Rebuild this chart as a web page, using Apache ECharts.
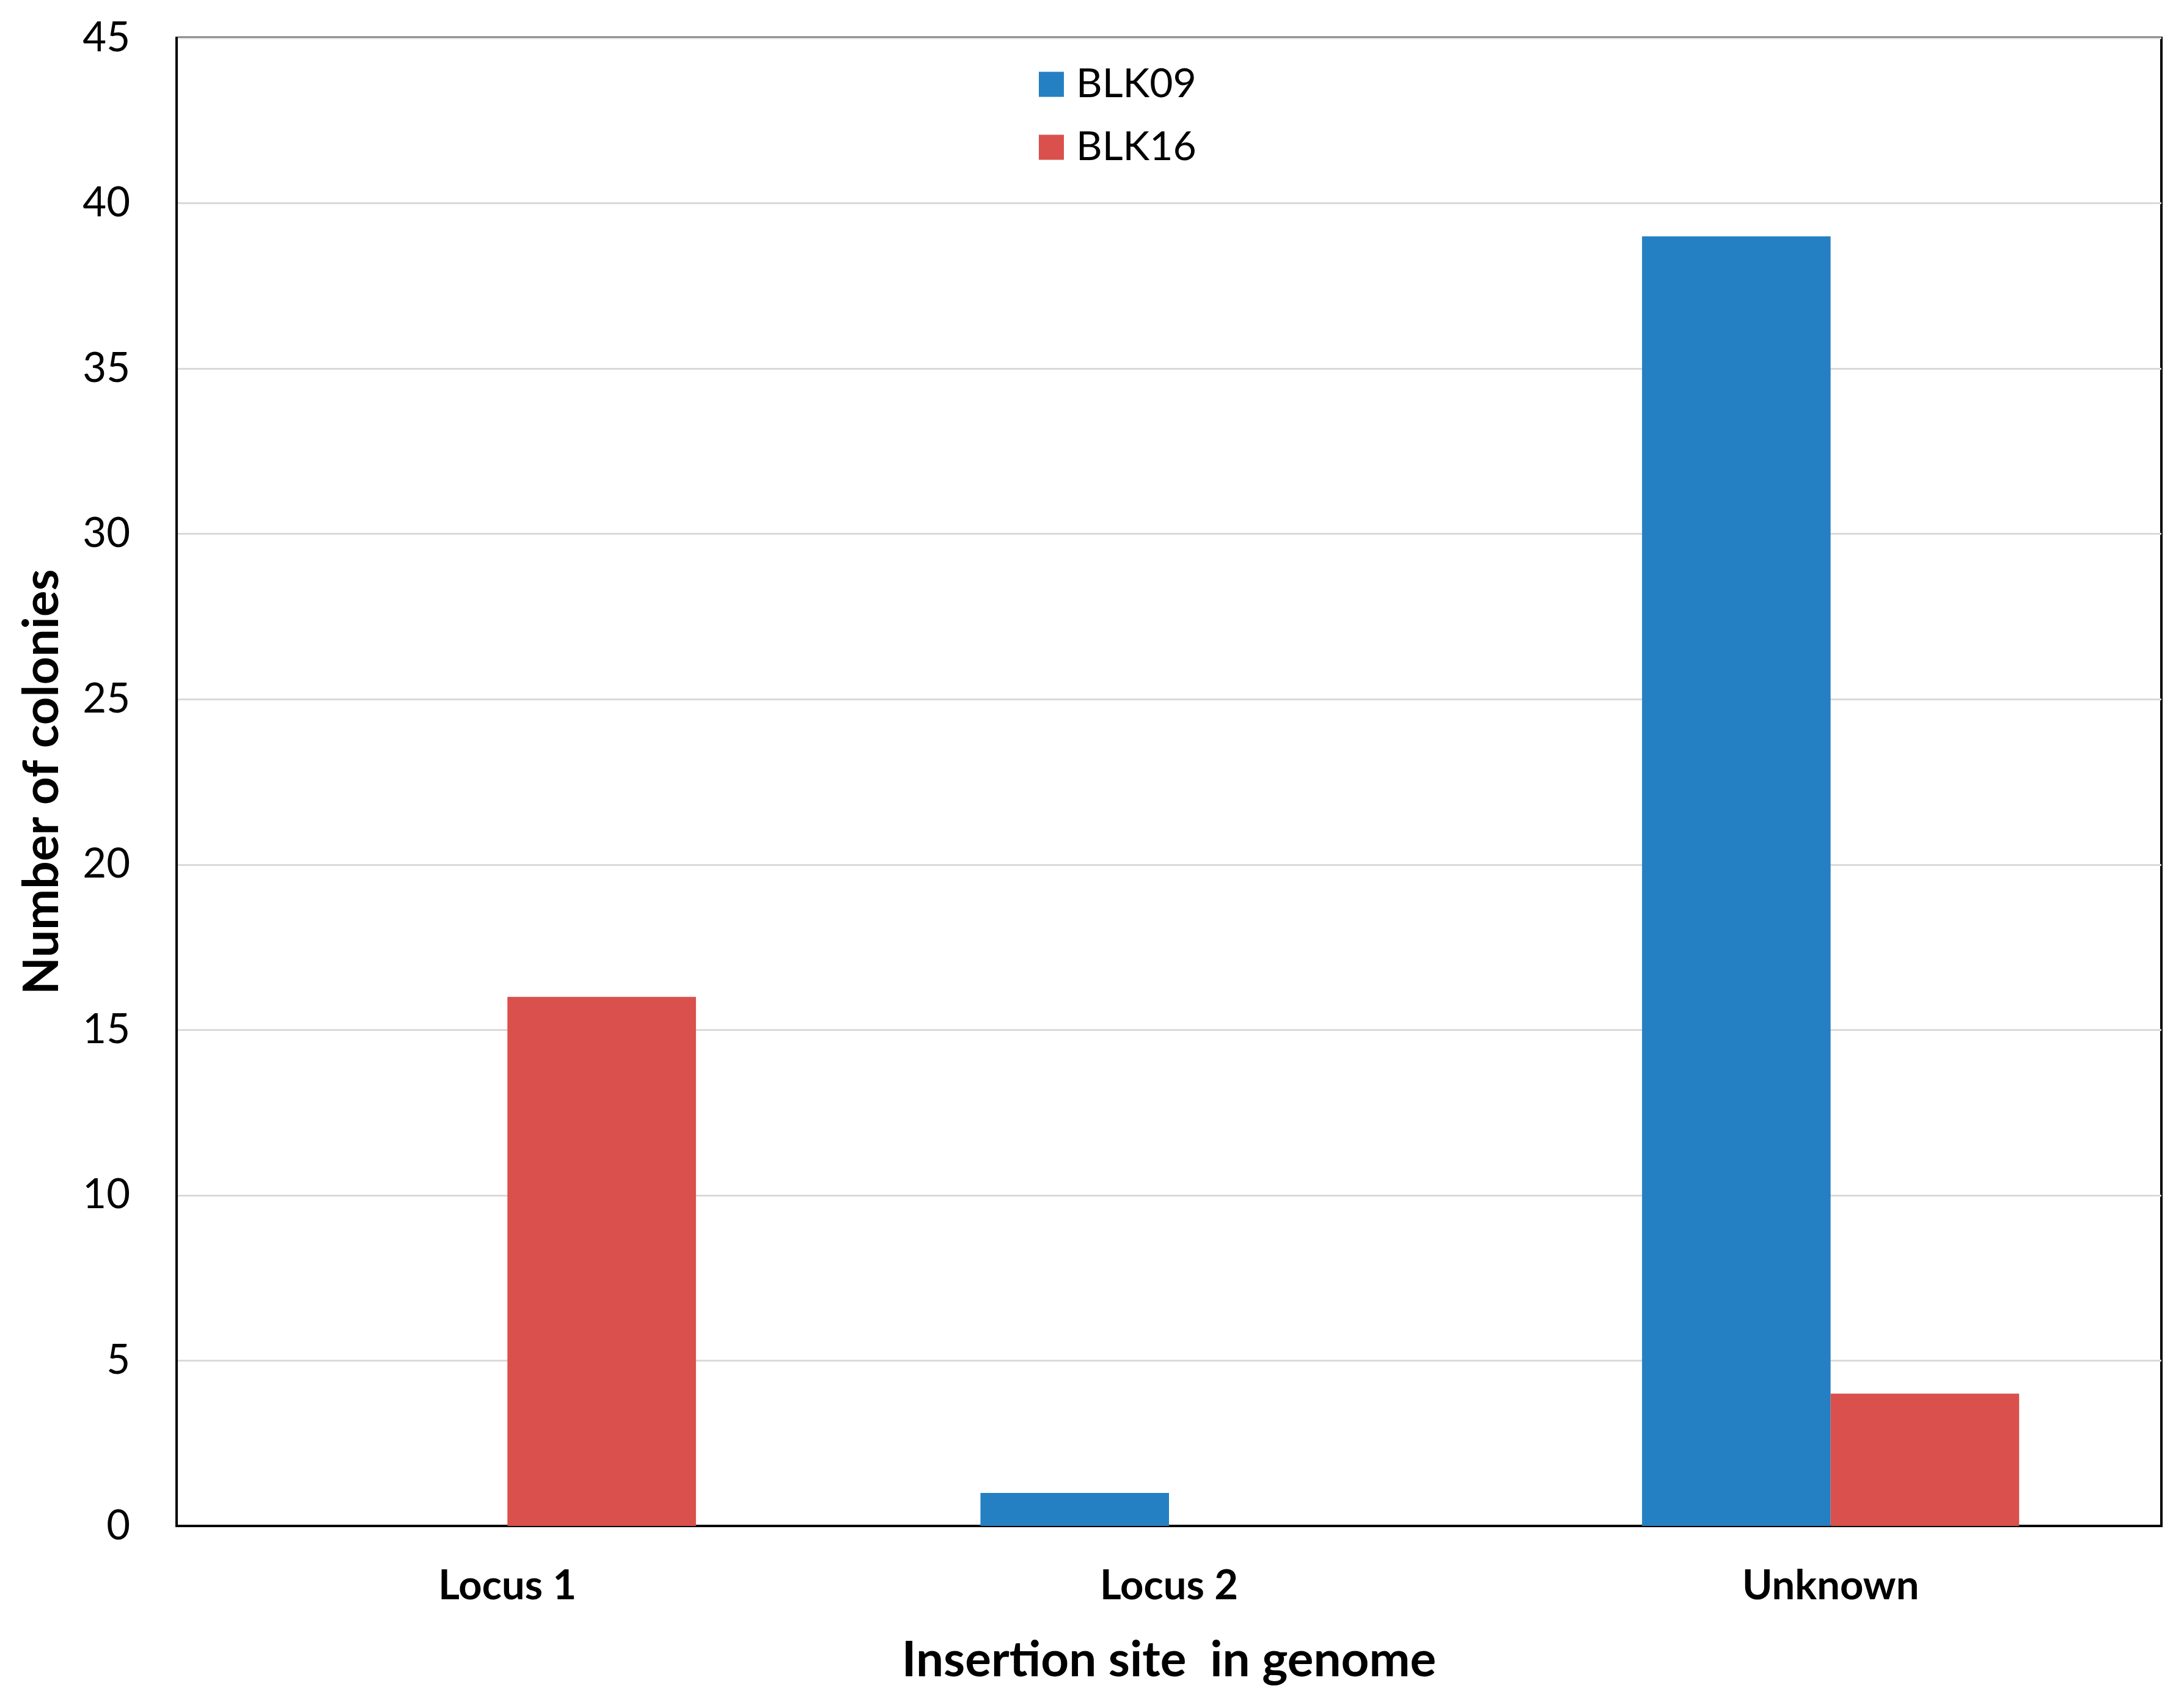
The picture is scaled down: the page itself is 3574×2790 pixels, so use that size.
<!DOCTYPE html>
<html>
<head>
<meta charset="utf-8">
<script src="https://cdn.jsdelivr.net/npm/echarts@6/dist/echarts.min.js"></script>
<style>
html,body{margin:0;padding:0;background:#fff;}
#chart{width:3574px;height:2790px;}
</style>
</head>
<body>
<div id="chart"></div>
<script>
const categories = ['Locus 1', 'Locus 2', 'Unknown'];
const seriesNames = ['BLK09', 'BLK16'];
const blk09 = [0, 1, 39];
const blk16 = [16, 0, 4];
const yMin = 0, yMax = 45, yStep = 5;

const FONT = 'Lato';
const chart = echarts.init(document.getElementById('chart'), null, {renderer: 'canvas'});
chart.setOption({
  backgroundColor: '#ffffff',
  animation: false,
  textStyle: {fontFamily: FONT},
  grid: {
    left: 289, right: 37, top: 62, bottom: 293,
    show: true, borderColor: '#000', borderWidth: 4, backgroundColor: 'transparent'
  },
  legend: {
    data: seriesNames,
    orient: 'vertical',
    left: 1695, top: 100,
    icon: 'rect',
    itemWidth: 41, itemHeight: 41,
    itemGap: 37,
    textStyle: {fontFamily: FONT, fontSize: 66, color: '#000', padding: [0, 0, 0, 15]}
  },
  xAxis: {
    type: 'category',
    data: categories,
    name: 'Insertion site  in genome',
    nameLocation: 'middle',
    nameGap: 180,
    nameTextStyle: {fontFamily: FONT, fontSize: 80, fontWeight: 'bold', color: '#000'},
    axisLine: {lineStyle: {color: '#000', width: 4}},
    axisTick: {show: false},
    axisLabel: {fontFamily: FONT, fontSize: 67, fontWeight: 'bold', color: '#000', margin: 65}
  },
  yAxis: {
    type: 'value',
    min: yMin, max: yMax, interval: yStep,
    name: 'Number of colonies',
    nameLocation: 'middle',
    nameGap: 180,
    nameRotate: 90,
    nameTextStyle: {fontFamily: FONT, fontSize: 80, fontWeight: 'bold', color: '#000'},
    axisLine: {show: true, lineStyle: {color: '#000', width: 4}},
    axisTick: {show: false},
    axisLabel: {fontFamily: FONT, fontSize: 67, color: '#000', margin: 76},
    splitLine: {show: true, lineStyle: {color: '#d9d9d9', width: 3}}
  },
  series: [
    {name: seriesNames[0], type: 'bar', data: blk09, barGap: '0%', barCategoryGap: '43%',
     itemStyle: {color: '#2480C2'}},
    {name: seriesNames[1], type: 'bar', data: blk16, barGap: '0%', barCategoryGap: '43%',
     itemStyle: {color: '#D9504C'}}
  ]
});
</script>
</body>
</html>
